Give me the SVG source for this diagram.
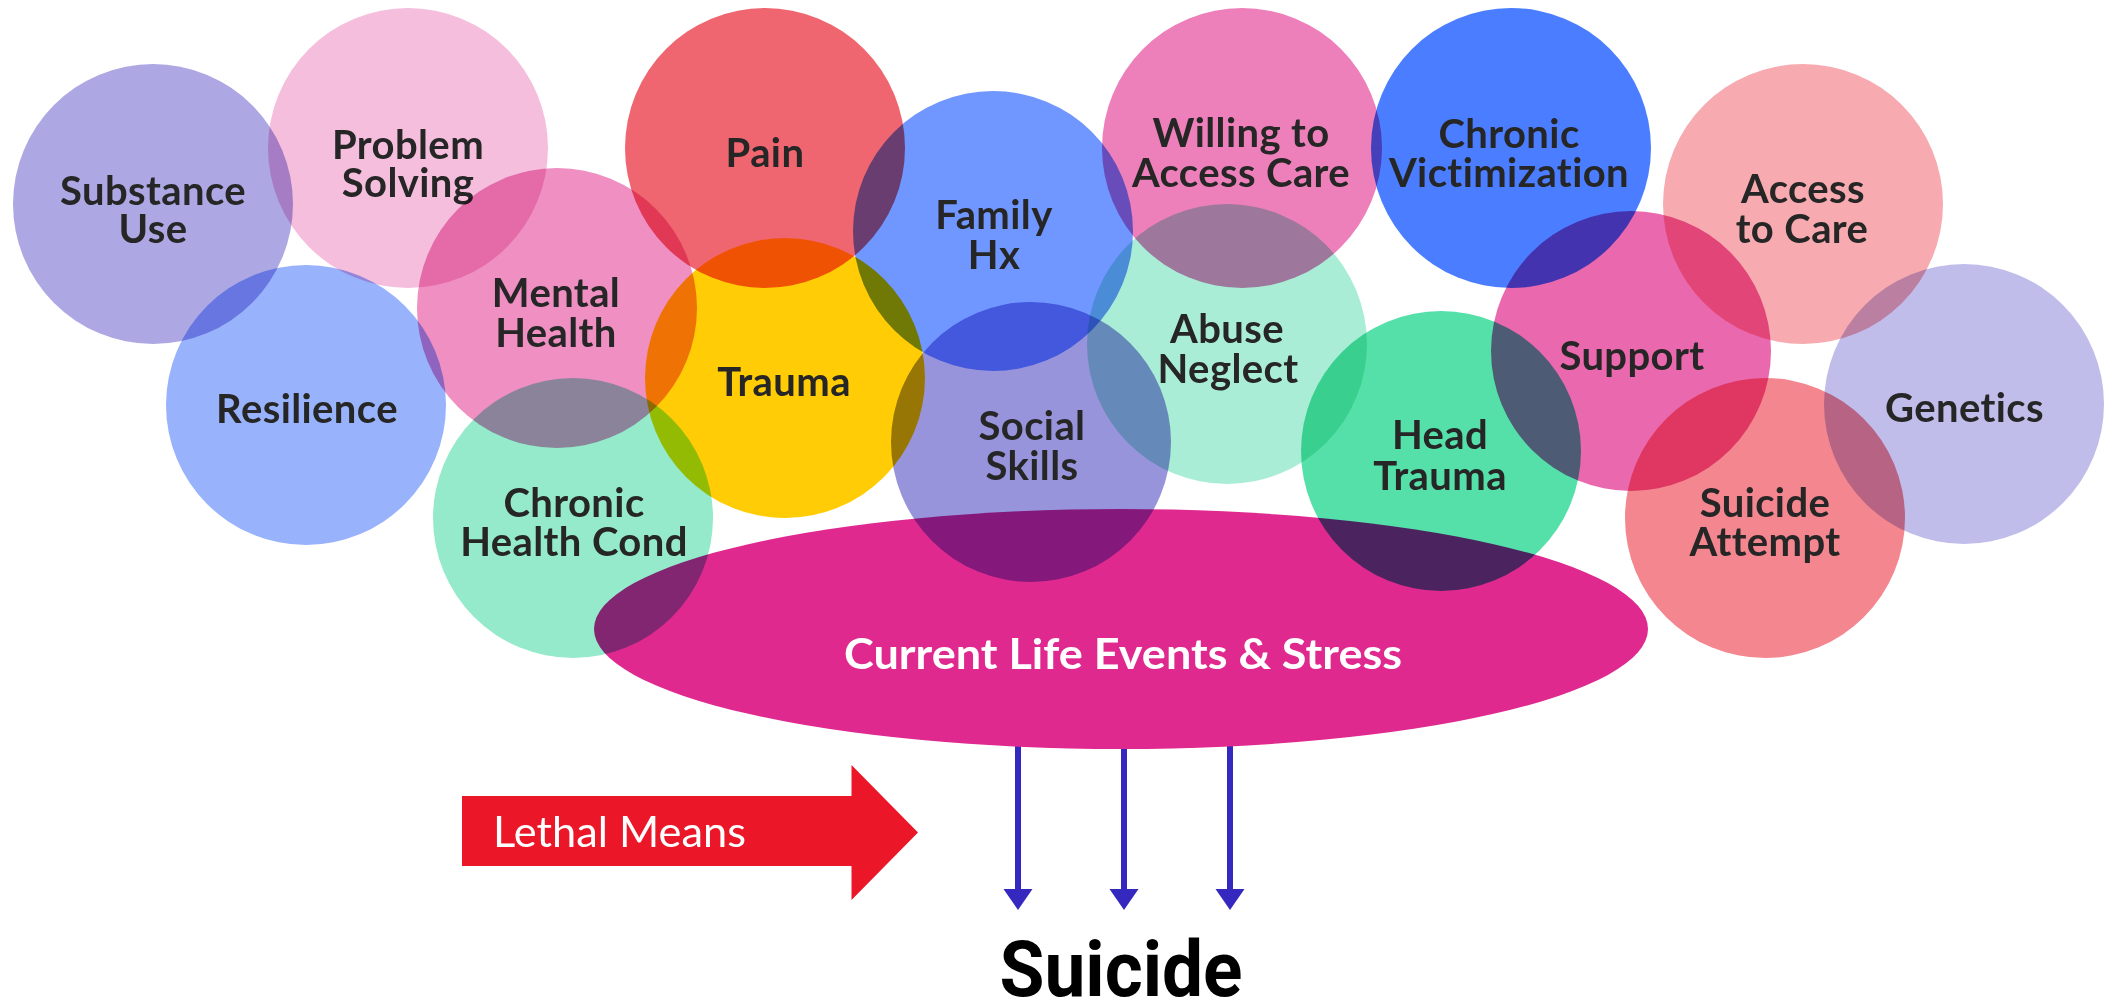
<svg xmlns="http://www.w3.org/2000/svg" width="2109" height="1003" viewBox="0 0 2109 1003">
  <style>
    .bub { mix-blend-mode: multiply; }
    .lbl { font-family: Lato, "Open Sans", "Liberation Sans", sans-serif; font-weight: 700; font-size: 40px; letter-spacing: 0.4px; fill: #262626; text-anchor: middle; }
    .evt { font-family: Lato, "Open Sans", "Liberation Sans", sans-serif; font-weight: 700; font-size: 42px; fill: #ffffff; text-anchor: middle; }
    .lm { font-family: Lato, "Open Sans", "Liberation Sans", sans-serif; font-weight: 400; font-size: 43px; fill: #ffffff; }
    .sui { font-family: Roboto, "Liberation Sans", sans-serif; font-weight: 700; font-size: 77px; fill: #000000; text-anchor: middle; }
    .conn { stroke: #3528BE; stroke-width: 6; fill: none; }
    .head { fill: #3528BE; }
  </style>
  <rect x="0" y="0" width="2109" height="1003" fill="#ffffff"/>

  <g id="connectors">
    <line class="conn" x1="1018" y1="740" x2="1018" y2="892"/>
    <polygon class="head" points="1003.5,889 1032.5,889 1018,910"/>
    <line class="conn" x1="1124" y1="740" x2="1124" y2="892"/>
    <polygon class="head" points="1109.5,889 1138.5,889 1124,910"/>
    <line class="conn" x1="1230" y1="740" x2="1230" y2="892"/>
    <polygon class="head" points="1215.5,889 1244.5,889 1230,910"/>
  </g>

  <g id="current-life-events">
    <ellipse cx="1121" cy="629" rx="527" ry="120" fill="#E0298F"/>
    <text class="evt" x="1123" y="669" textLength="558" lengthAdjust="spacingAndGlyphs">Current Life Events &amp; Stress</text>
  </g>

  <g id="substance-use">
    <circle class="bub" cx="153" cy="204" r="140" fill="#ADA8E3"/>
    <text class="lbl"><tspan x="153" y="204.5">Substance</tspan><tspan x="153" y="243">Use</tspan></text>
  </g>
  <g id="problem-solving">
    <circle class="bub" cx="408" cy="148" r="140" fill="#F5BEDD"/>
    <text class="lbl"><tspan x="408" y="158.5">Problem</tspan><tspan x="408" y="197">Solving</tspan></text>
  </g>
  <g id="resilience">
    <circle class="bub" cx="306" cy="405" r="140" fill="#98B3FC"/>
    <text class="lbl" x="307" y="423">Resilience</text>
  </g>
  <g id="mental-health">
    <circle class="bub" cx="557" cy="308" r="140" fill="#EF8FC2"/>
    <text class="lbl"><tspan x="556" y="307">Mental</tspan><tspan x="556" y="347">Health</tspan></text>
  </g>
  <g id="chronic-health-cond">
    <circle class="bub" cx="573" cy="518" r="140" fill="#94EACB"/>
    <text class="lbl"><tspan x="574" y="516.5">Chronic</tspan><tspan x="574" y="556">Health Cond</tspan></text>
  </g>
  <g id="pain">
    <circle class="bub" cx="765" cy="148" r="140" fill="#F06670"/>
    <text class="lbl" x="765" y="166.5">Pain</text>
  </g>
  <g id="trauma">
    <circle class="bub" cx="785" cy="378" r="140" fill="#FFCC05"/>
    <text class="lbl" x="784" y="396">Trauma</text>
  </g>
  <g id="family-hx">
    <circle class="bub" cx="993" cy="231" r="140" fill="#7097FF"/>
    <text class="lbl"><tspan x="994" y="228.5">Family</tspan><tspan x="994" y="269">Hx</tspan></text>
  </g>
  <g id="social-skills">
    <circle class="bub" cx="1031" cy="442" r="140" fill="#9894DC"/>
    <text class="lbl"><tspan x="1032" y="440">Social</tspan><tspan x="1032" y="480">Skills</tspan></text>
  </g>
  <g id="willing-to-access-care">
    <circle class="bub" cx="1242" cy="148" r="140" fill="#ED80BA"/>
    <text class="lbl"><tspan x="1241" y="146.5">Willing to</tspan><tspan x="1241" y="186.5">Access Care</tspan></text>
  </g>
  <g id="abuse-neglect">
    <circle class="bub" cx="1227" cy="344" r="140" fill="#AAEDD7"/>
    <text class="lbl"><tspan x="1227" y="343">Abuse</tspan><tspan x="1228" y="382.5">Neglect</tspan></text>
  </g>
  <g id="chronic-victimization">
    <circle class="bub" cx="1511" cy="148" r="140" fill="#4A7DFF"/>
    <text class="lbl"><tspan x="1509" y="147.5">Chronic</tspan><tspan x="1509" y="186.5">Victimization</tspan></text>
  </g>
  <g id="head-trauma">
    <circle class="bub" cx="1441" cy="451" r="140" fill="#55E0AA"/>
    <text class="lbl"><tspan x="1440" y="448.5">Head</tspan><tspan x="1440" y="489.5">Trauma</tspan></text>
  </g>
  <g id="access-to-care">
    <circle class="bub" cx="1803" cy="204" r="140" fill="#F7ABB0"/>
    <text class="lbl"><tspan x="1803" y="203">Access</tspan><tspan x="1802" y="243">to Care</tspan></text>
  </g>
  <g id="support">
    <circle class="bub" cx="1631" cy="351" r="140" fill="#EA68AE"/>
    <text class="lbl" x="1632" y="369.5">Support</text>
  </g>
  <g id="genetics">
    <circle class="bub" cx="1964" cy="404" r="140" fill="#C0BDEA"/>
    <text class="lbl" x="1964.5" y="422">Genetics</text>
  </g>
  <g id="suicide-attempt">
    <circle class="bub" cx="1765" cy="518" r="140" fill="#F3868F"/>
    <text class="lbl"><tspan x="1765" y="516.5">Suicide</tspan><tspan x="1765" y="556">Attempt</tspan></text>
  </g>

  <g id="lethal-means">
    <polygon points="462,796 851.5,796 851.5,765 918,832.5 851.5,900 851.5,866 462,866" fill="#EB1628"/>
    <text class="lm" x="493" y="847" textLength="253" lengthAdjust="spacingAndGlyphs">Lethal Means</text>
  </g>

  <g id="suicide">
    <text class="sui" x="1121" y="996" textLength="243" lengthAdjust="spacingAndGlyphs">Suicide</text>
  </g>
</svg>
